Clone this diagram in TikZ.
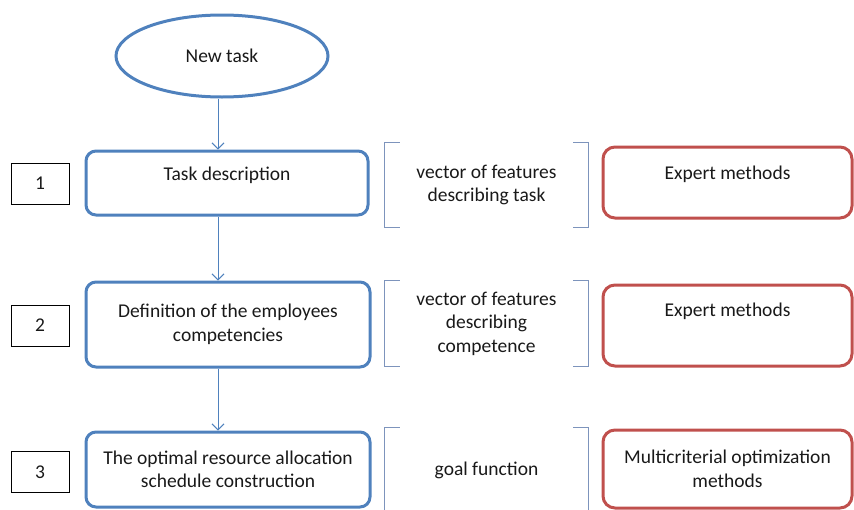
\documentclass[tikz,border=0pt]{standalone}
\usepackage{fontspec}
\setmainfont{Carlito}
\usetikzlibrary{shapes.geometric,arrows.meta}

\definecolor{stepblue}{RGB}{79,129,189}
\definecolor{methodred}{RGB}{192,80,77}
\definecolor{bracketgray}{RGB}{125,148,188}
\definecolor{textgray}{RGB}{25,25,25}

\tikzset{
  every node/.style={font=\fontsize{19.5}{23.5}\selectfont, text=textgray},
  newtask/.style={draw=stepblue, ellipse, line width=3pt, minimum width=212pt, minimum height=82pt},
  stage/.style={draw=stepblue, line width=3pt, rounded corners=10pt, minimum width=282pt, align=center},
  stepno/.style={draw=black, line width=1pt, minimum width=58pt, minimum height=41pt},
  feature/.style={minimum width=203pt, align=center},
  method/.style={draw=methodred, line width=3pt, rounded corners=12pt, minimum width=249pt, align=center},
  flow/.style={draw=stepblue, line width=1pt, -{Straight Barb[length=6pt,width=12pt]}},
  featbracket/.style={draw=bracketgray, line width=1pt}
}

\begin{document}
\begin{tikzpicture}[x=1pt,y=-1pt]
\useasboundingbox (0,0) rectangle (854,509);

\node[newtask] (task) at (222,56) {New task};

\node[stage, minimum height=64pt, text depth=18pt] (desc) at (227,183) {Task description};
\node[stage, minimum width=284pt, minimum height=85pt] (comp) at (228,324.5) {Definition of the employees\\competencies};
\node[stage, minimum width=284pt, minimum height=75pt] (sched) at (228,469.5) {The optimal resource allocation\\schedule construction};

\node[stepno] (n1) at (40,183.5) {1};
\node[stepno] (n2) at (40,325.5) {2};
\node[stepno] (n3) at (40,472) {3};

\node[feature, minimum height=84pt] (vec1) at (486.5,185) {vector of features\\describing task};
\node[feature, minimum height=85pt] (vec2) at (486.5,323.5) {vector of features\\describing\\competence};
\node[feature, minimum height=84pt] (vec3) at (486.5,470) {goal function};

\node[method, minimum height=71pt, text depth=19pt] (exp1) at (727.5,182.5) {Expert methods};
\node[method, minimum height=81pt, text depth=31pt] (exp2) at (727.5,325.5) {Expert methods};
\node[method, minimum height=78pt] (multi) at (727.5,469) {Multicriterial optimization\\methods};

\foreach \v in {vec1,vec2,vec3} {
  \draw[featbracket] ([xshift=15pt]\v.north west) -- (\v.north west) -- (\v.south west) -- ([xshift=15pt]\v.south west);
  \draw[featbracket] ([xshift=-15pt]\v.north east) -- (\v.north east) -- (\v.south east) -- ([xshift=-15pt]\v.south east);
}

\coordinate (spine) at (218,0);
\draw[flow] (task.south -| spine) -- (desc.north -| spine);
\draw[flow] (desc.south -| spine) -- (comp.north -| spine);
\draw[flow] (comp.south -| spine) -- (sched.north -| spine);
\end{tikzpicture}
\end{document}
